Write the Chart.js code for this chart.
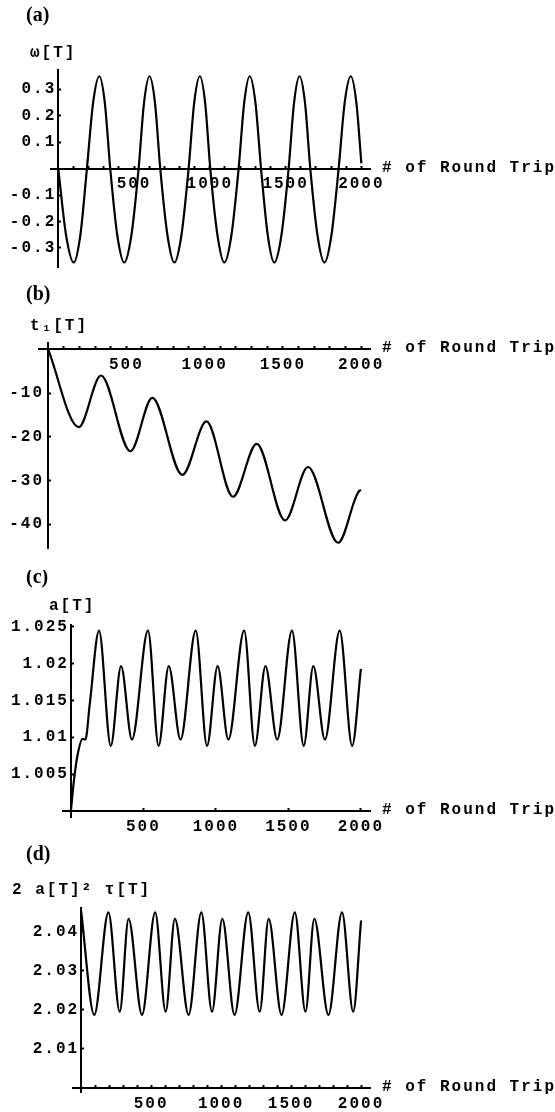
<!DOCTYPE html>
<html>
<head>
<meta charset="utf-8">
<script src="https://cdn.jsdelivr.net/npm/chart.js@4/dist/chart.umd.min.js"></script>
<style>
  html, body { margin: 0; padding: 0; background: #fff; }
  #page { position: relative; width: 555px; height: 1112px; overflow: hidden; }
  canvas { position: absolute; left: 0; }
</style>
</head>
<body>
<div id="page">
  <canvas id="chart-a" width="555" height="280" style="top:0px"></canvas>
  <canvas id="chart-b" width="555" height="290" style="top:280px"></canvas>
  <canvas id="chart-c" width="555" height="270" style="top:570px"></canvas>
  <canvas id="chart-d" width="555" height="272" style="top:840px"></canvas>
</div>
<script>
/* ===== data ===== */

// (a) omega[T]
const aX = [0, 51, 102, 146, 189, 230, 271, 307, 343, 389, 435, 483, 530, 566, 602, 638, 673, 720, 766, 813, 860, 897, 934, 969, 1003, 1050, 1096, 1143, 1190, 1227, 1263, 1301, 1338, 1382, 1425, 1473, 1520, 1556, 1592, 1628, 1663, 1710, 1756, 1803, 1850, 1890, 1930, 1967, 2000];
const aY = [0, -0.25, -0.355, -0.25, 0, 0.25, 0.35, 0.25, 0, -0.25, -0.355, -0.25, 0, 0.25, 0.35, 0.25, 0, -0.25, -0.355, -0.25, 0, 0.25, 0.35, 0.25, 0, -0.25, -0.355, -0.25, 0, 0.25, 0.35, 0.25, 0, -0.25, -0.355, -0.25, 0, 0.25, 0.35, 0.25, 0, -0.25, -0.355, -0.25, 0, 0.25, 0.35, 0.25, 0.02];
const aYTicks = [-0.3, -0.2, -0.1, 0.1, 0.2, 0.3];
const aYLabels = ['-0.3', '-0.2', '-0.1', '0.1', '0.2', '0.3'];

// (b) t1[T]
const bX = [0, 196, 338, 526, 666, 858, 1012, 1181, 1333, 1514, 1661, 1853, 1990, 2000];
const bY = [0, -17.8, -6.0, -23.3, -11.1, -28.7, -16.5, -33.7, -21.6, -39.1, -26.9, -44.2, -32.3, -32.2];
const bYTicks = [-40, -30, -20, -10];
const bYLabels = ['-40', '-30', '-20', '-10'];

// (c) a[T]
const cX = [0, 20, 45, 80, 100, 130, 194, 275, 346, 421, 532, 605, 675, 756, 861, 939, 1012, 1086, 1195, 1269, 1342, 1423, 1525, 1606, 1672, 1752, 1854, 1940, 2000];
const cY = [1.0, 1.0040, 1.0075, 1.0098, 1.0097, 1.0145, 1.02447, 1.00885, 1.01967, 1.00971, 1.02447, 1.00885, 1.01967, 1.00971, 1.02447, 1.00885, 1.01967, 1.00971, 1.02447, 1.00885, 1.01967, 1.00971, 1.02447, 1.00885, 1.01967, 1.00971, 1.02447, 1.00885, 1.0193];
const cYTicks = [1.005, 1.01, 1.015, 1.02, 1.025];
const cYLabels = ['1.005', '1.01', '1.015', '1.02', '1.025'];

// (d) 2 a[T]^2 tau[T]
const dX = [0, 94, 195, 276, 339, 435, 529, 604, 670, 768, 859, 935, 1009, 1096, 1194, 1276, 1340, 1432, 1527, 1603, 1666, 1767, 1864, 1944, 2000];
const dY = [2.0452, 2.0187, 2.0449, 2.0195, 2.0432, 2.0187, 2.0449, 2.0195, 2.0432, 2.0187, 2.0449, 2.0195, 2.0432, 2.0187, 2.0449, 2.0195, 2.0432, 2.0187, 2.0449, 2.0195, 2.0432, 2.0187, 2.0449, 2.0195, 2.0428];
const dYTicks = [2.01, 2.02, 2.03, 2.04];
const dYLabels = ['2.01', '2.02', '2.03', '2.04'];

// x axis ticks
const xLabels = [500, 1000, 1500, 2000];
const xMinor = [100, 200, 300, 400, 500, 600, 700, 800, 900, 1000, 1100, 1200, 1300, 1400, 1500, 1600, 1700, 1800, 1900, 2000];

/* ===== text drawn around the plot ===== */
const MONO_FAMILY = '"Liberation Mono", "DejaVu Sans Mono", monospace';
const SPACING = '2px';

const panelText = {
  id: 'panelText',
  beforeDraw(chart, args, opts) {
    chart.ctx.letterSpacing = SPACING;
    // keep the y tick labels a little away from the axis line
    let items = chart.scales.y.getLabelItems(chart.chartArea);
    if (!items.shifted) {
      items.forEach(it => { it.options.translation[0] -= opts.yGap; });
      items.shifted = true;
    }
  },
  afterDraw(chart, args, opts) {
    const ctx = chart.ctx;
    ctx.save();
    ctx.fillStyle = '#000';
    ctx.textAlign = 'left';
    ctx.textBaseline = 'middle';
    ctx.letterSpacing = '0px';
    ctx.font = 'bold 20px "Liberation Serif", "Times New Roman", serif';
    ctx.fillText(opts.letter, opts.letterX, opts.letterY);
    ctx.letterSpacing = SPACING;
    ctx.font = 'bold 16px ' + MONO_FAMILY;
    ctx.fillText(opts.yTitle, opts.yTitleX, opts.yTitleY);
    let y0 = chart.scales.y.getPixelForValue(opts.base);
    ctx.fillText('# of Round Trip', chart.chartArea.right + 12, y0 - 1);
    ctx.restore();
  }
};

let buildChart = (id, cfg) => new Chart(document.getElementById(id), {
  type: 'line',
  data: {
    datasets: [{
      data: cfg.xs.map((x, i) => ({ x, y: cfg.ys[i] })),
      borderColor: '#000',
      borderWidth: 2.2,
      pointRadius: 0,
      fill: false,
      cubicInterpolationMode: 'monotone'
    }]
  },
  options: {
    responsive: false,
    animation: false,
    devicePixelRatio: 1,
    layout: { padding: cfg.pad },
    plugins: {
      legend: { display: false },
      tooltip: { enabled: false },
      panelText: cfg.text
    },
    scales: {
      x: {
        type: 'linear',
        min: cfg.xMin, max: cfg.xMax,
        position: { y: cfg.text.base },
        border: { display: true, color: '#000', width: 2 },
        grid: { drawOnChartArea: false, drawTicks: true, tickLength: -4, tickWidth: 2, tickColor: '#000' },
        afterBuildTicks: (s) => { s.ticks = cfg.xTicks.map(v => ({ value: v })); },
        ticks: {
          autoSkip: false, maxRotation: 0, padding: 10, color: '#000',
          font: { family: MONO_FAMILY, size: 16, weight: 'bold' },
          callback: (v) => xLabels.includes(v) ? String(v) : ''
        }
      },
      y: {
        type: 'linear',
        min: cfg.yMin, max: cfg.yMax,
        position: { x: 0 },
        border: { display: true, color: '#000', width: 2 },
        grid: { drawOnChartArea: false, drawTicks: true, tickLength: -4, tickWidth: 2, tickColor: '#000' },
        afterBuildTicks: (s) => { s.ticks = cfg.yTicks.map(v => ({ value: v })); },
        ticks: {
          autoSkip: false, color: '#000',
          font: { family: MONO_FAMILY, size: 16, weight: 'bold' },
          callback: (v, i) => cfg.yLabels[i]
        }
      }
    }
  },
  plugins: [panelText]
});

buildChart('chart-a', {
  xs: aX, ys: aY, xTicks: xMinor, yTicks: aYTicks, yLabels: aYLabels,
  xMin: -48, xMax: 2057, yMin: -0.3736, yMax: 0.3736,
  pad: { left: 51, right: 185, top: 70, bottom: 12 },
  text: { letter: '(a)', letterX: 26, letterY: 16, yTitle: 'ω[T]', yTitleX: 30, yTitleY: 53, base: 0, yGap: 2 }
});

buildChart('chart-b', {
  xs: bX, ys: bY, xTicks: xMinor, yTicks: bYTicks, yLabels: bYLabels,
  xMin: -58, xMax: 2057, yMin: -45.4, yMax: 1.42,
  pad: { left: 39, right: 185, top: 63, bottom: 22 },
  text: { letter: '(b)', letterX: 26, letterY: 15, yTitle: 't₁[T]', yTitleX: 30, yTitleY: 46, base: 0, yGap: 4 }
});

buildChart('chart-c', {
  xs: cX, ys: cY, xTicks: xLabels, yTicks: cYTicks, yLabels: cYLabels,
  xMin: -54.5, xMax: 2063, yMin: 0.9992, yMax: 1.02524,
  pad: { left: 63, right: 185, top: 55, bottom: 23 },
  text: { letter: '(c)', letterX: 26, letterY: 8, yTitle: 'a[T]', yTitleX: 49, yTitleY: 36, base: 1.0, yGap: 2 }
});

buildChart('chart-d', {
  xs: dX, ys: dY, xTicks: xMinor, yTicks: dYTicks, yLabels: dYLabels,
  xMin: -58, xMax: 2064, yMin: 1.999, yMax: 2.046,
  pad: { left: 73, right: 185, top: 68, bottom: 20 },
  text: { letter: '(d)', letterX: 26, letterY: 15, yTitle: '2 a[T]² τ[T]', yTitleX: 12, yTitleY: 50, base: 2.0, yGap: 2 }
});
</script>
</body>
</html>
